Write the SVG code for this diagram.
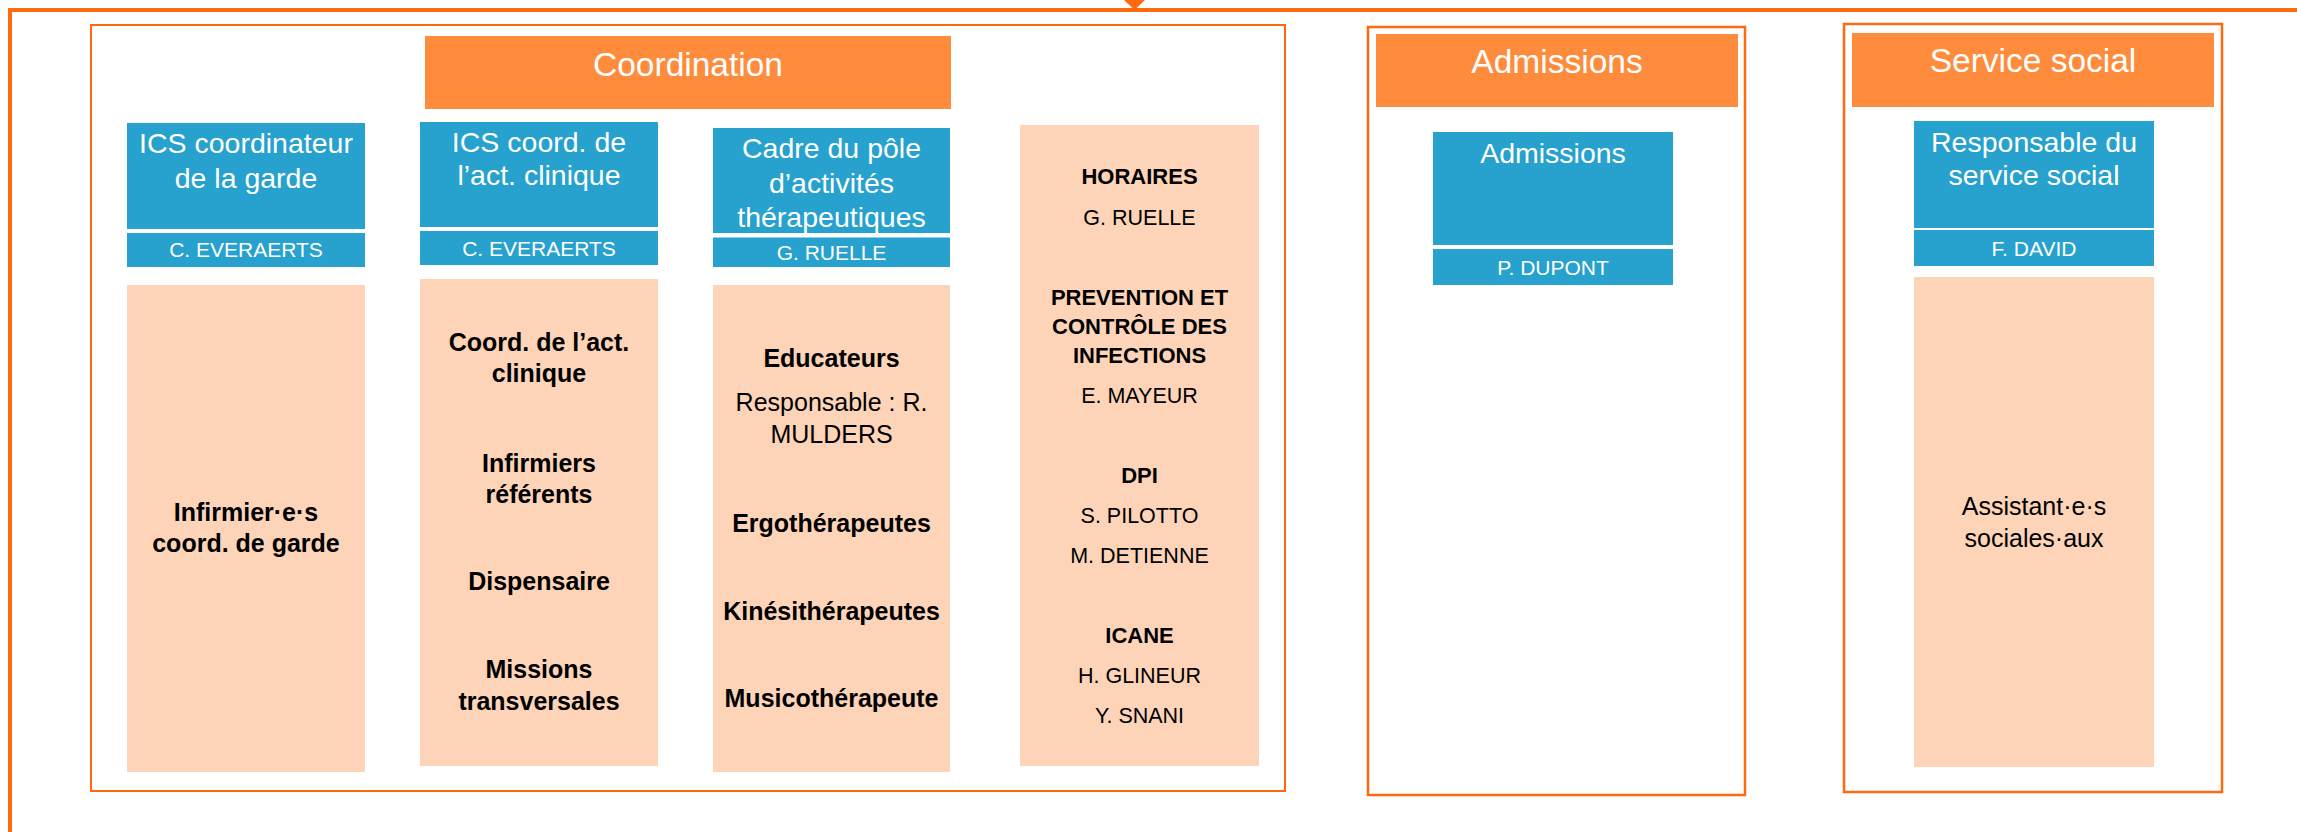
<svg xmlns="http://www.w3.org/2000/svg" width="2297" height="832" viewBox="0 0 2297 832">
<defs>
<style>
text{font-family:"Liberation Sans",Arial,sans-serif;text-anchor:middle}
.frame{fill:none;stroke:#FF6A0E}
.hdr{fill:#FF8B3D}
.blue{fill:#27A1CD}
.peach{fill:#FDD4B8}
.th{fill:#fff;font-size:33.5px}
.tb{fill:#fff;font-size:28.5px}
.tn{fill:#fff;font-size:21px}
.pb{fill:#000;font-size:25px;font-weight:bold}
.pr{fill:#000;font-size:25px}
.sb{fill:#000;font-size:22px;font-weight:bold}
.sr{fill:#000;font-size:21.5px}
</style>
<marker id="arr" viewBox="0 0 10 10" refX="10" refY="5" markerWidth="10" markerHeight="10" markerUnits="userSpaceOnUse" orient="auto">
<path d="M0,0 L10,5 L0,10 Z" fill="#FF6A0E"/>
</marker>
</defs>
<rect width="2297" height="832" fill="#fff"/>
<g id="outer-frame"><rect class="frame" x="10" y="10" width="2400" height="900" stroke-width="4"/></g>
<g id="connectors">
<path d="M1134.5,-30 L1134.5,9" stroke="#FF6A0E" stroke-width="2" fill="none"/>
<polygon points="1124,0 1145,0 1134.5,10" fill="#FF6A0E"/>
</g>
<g id="coordination">
<rect class="frame" x="91" y="25" width="1194" height="766" stroke-width="2"/>
<rect class="hdr" x="425" y="36" width="526" height="73"/>
<text class="th" x="688" y="76">Coordination</text>
</g>
<g id="ics-garde">
<rect class="blue" x="127" y="123" width="238" height="106"/>
<text class="tb" x="246" y="153">ICS coordinateur</text>
<text class="tb" x="246" y="188">de la garde</text>
<rect class="blue" x="127" y="233" width="238" height="34"/>
<text class="tn" x="246" y="257">C. EVERAERTS</text>
</g>
<g id="garde-team">
<rect class="peach" x="127" y="285" width="238" height="487"/>
<text class="pb" x="246" y="521">Infirmier·e·s</text>
<text class="pb" x="246" y="552">coord. de garde</text>
</g>
<g id="ics-clinique">
<rect class="blue" x="420" y="122" width="238" height="105"/>
<text class="tb" x="539" y="152">ICS coord. de</text>
<text class="tb" x="539" y="185">l’act. clinique</text>
<rect class="blue" x="420" y="231" width="238" height="34"/>
<text class="tn" x="539" y="256">C. EVERAERTS</text>
</g>
<g id="clinique-team">
<rect class="peach" x="420" y="279" width="238" height="487"/>
<text class="pb" x="539" y="351">Coord. de l’act.</text>
<text class="pb" x="539" y="382">clinique</text>
<text class="pb" x="539" y="472">Infirmiers</text>
<text class="pb" x="539" y="503">référents</text>
<text class="pb" x="539" y="590">Dispensaire</text>
<text class="pb" x="539" y="678">Missions</text>
<text class="pb" x="539" y="710">transversales</text>
</g>
<g id="cadre-pole">
<rect class="blue" x="713" y="128" width="237" height="105"/>
<text class="tb" x="831.5" y="158">Cadre du pôle</text>
<text class="tb" x="831.5" y="193">d’activités</text>
<text class="tb" x="831.5" y="227">thérapeutiques</text>
<rect class="blue" x="713" y="237.5" width="237" height="29.5"/>
<text class="tn" x="831.5" y="260">G. RUELLE</text>
</g>
<g id="pole-team">
<rect class="peach" x="713" y="285" width="237" height="487"/>
<text class="pb" x="831.5" y="367">Educateurs</text>
<text class="pr" x="831.5" y="411">Responsable : R.</text>
<text class="pr" x="831.5" y="443">MULDERS</text>
<text class="pb" x="831.5" y="532">Ergothérapeutes</text>
<text class="pb" x="831.5" y="620">Kinésithérapeutes</text>
<text class="pb" x="831.5" y="707">Musicothérapeute</text>
</g>
<g id="transversal">
<rect class="peach" x="1020" y="125" width="239" height="641"/>
<text class="sb" x="1139.5" y="184">HORAIRES</text>
<text class="sr" x="1139.5" y="225">G. RUELLE</text>
<text class="sb" x="1139.5" y="305">PREVENTION ET</text>
<text class="sb" x="1139.5" y="334">CONTRÔLE DES</text>
<text class="sb" x="1139.5" y="363">INFECTIONS</text>
<text class="sr" x="1139.5" y="403">E. MAYEUR</text>
<text class="sb" x="1139.5" y="483">DPI</text>
<text class="sr" x="1139.5" y="523">S. PILOTTO</text>
<text class="sr" x="1139.5" y="563">M. DETIENNE</text>
<text class="sb" x="1139.5" y="643">ICANE</text>
<text class="sr" x="1139.5" y="683">H. GLINEUR</text>
<text class="sr" x="1139.5" y="723">Y. SNANI</text>
</g>
<g id="admissions">
<rect class="frame" x="1368" y="27" width="377" height="768" stroke-width="2.5"/>
<rect class="hdr" x="1376" y="34" width="362" height="73"/>
<text class="th" x="1557" y="73">Admissions</text>
</g>
<g id="admissions-resp">
<rect class="blue" x="1433" y="132" width="240" height="113"/>
<text class="tb" x="1553" y="163">Admissions</text>
<rect class="blue" x="1433" y="249" width="240" height="36"/>
<text class="tn" x="1553" y="275">P. DUPONT</text>
</g>
<g id="service-social">
<rect class="frame" x="1844" y="24" width="378" height="768" stroke-width="2.5"/>
<rect class="hdr" x="1852" y="33" width="362" height="74"/>
<text class="th" x="2033" y="72">Service social</text>
</g>
<g id="social-resp">
<rect class="blue" x="1914" y="121" width="240" height="107"/>
<text class="tb" x="2034" y="152">Responsable du</text>
<text class="tb" x="2034" y="185">service social</text>
<rect class="blue" x="1914" y="230" width="240" height="36"/>
<text class="tn" x="2034" y="256">F. DAVID</text>
</g>
<g id="social-team">
<rect class="peach" x="1914" y="277" width="240" height="490"/>
<text class="pr" x="2034" y="515">Assistant·e·s</text>
<text class="pr" x="2034" y="547">sociales·aux</text>
</g>
</svg>
